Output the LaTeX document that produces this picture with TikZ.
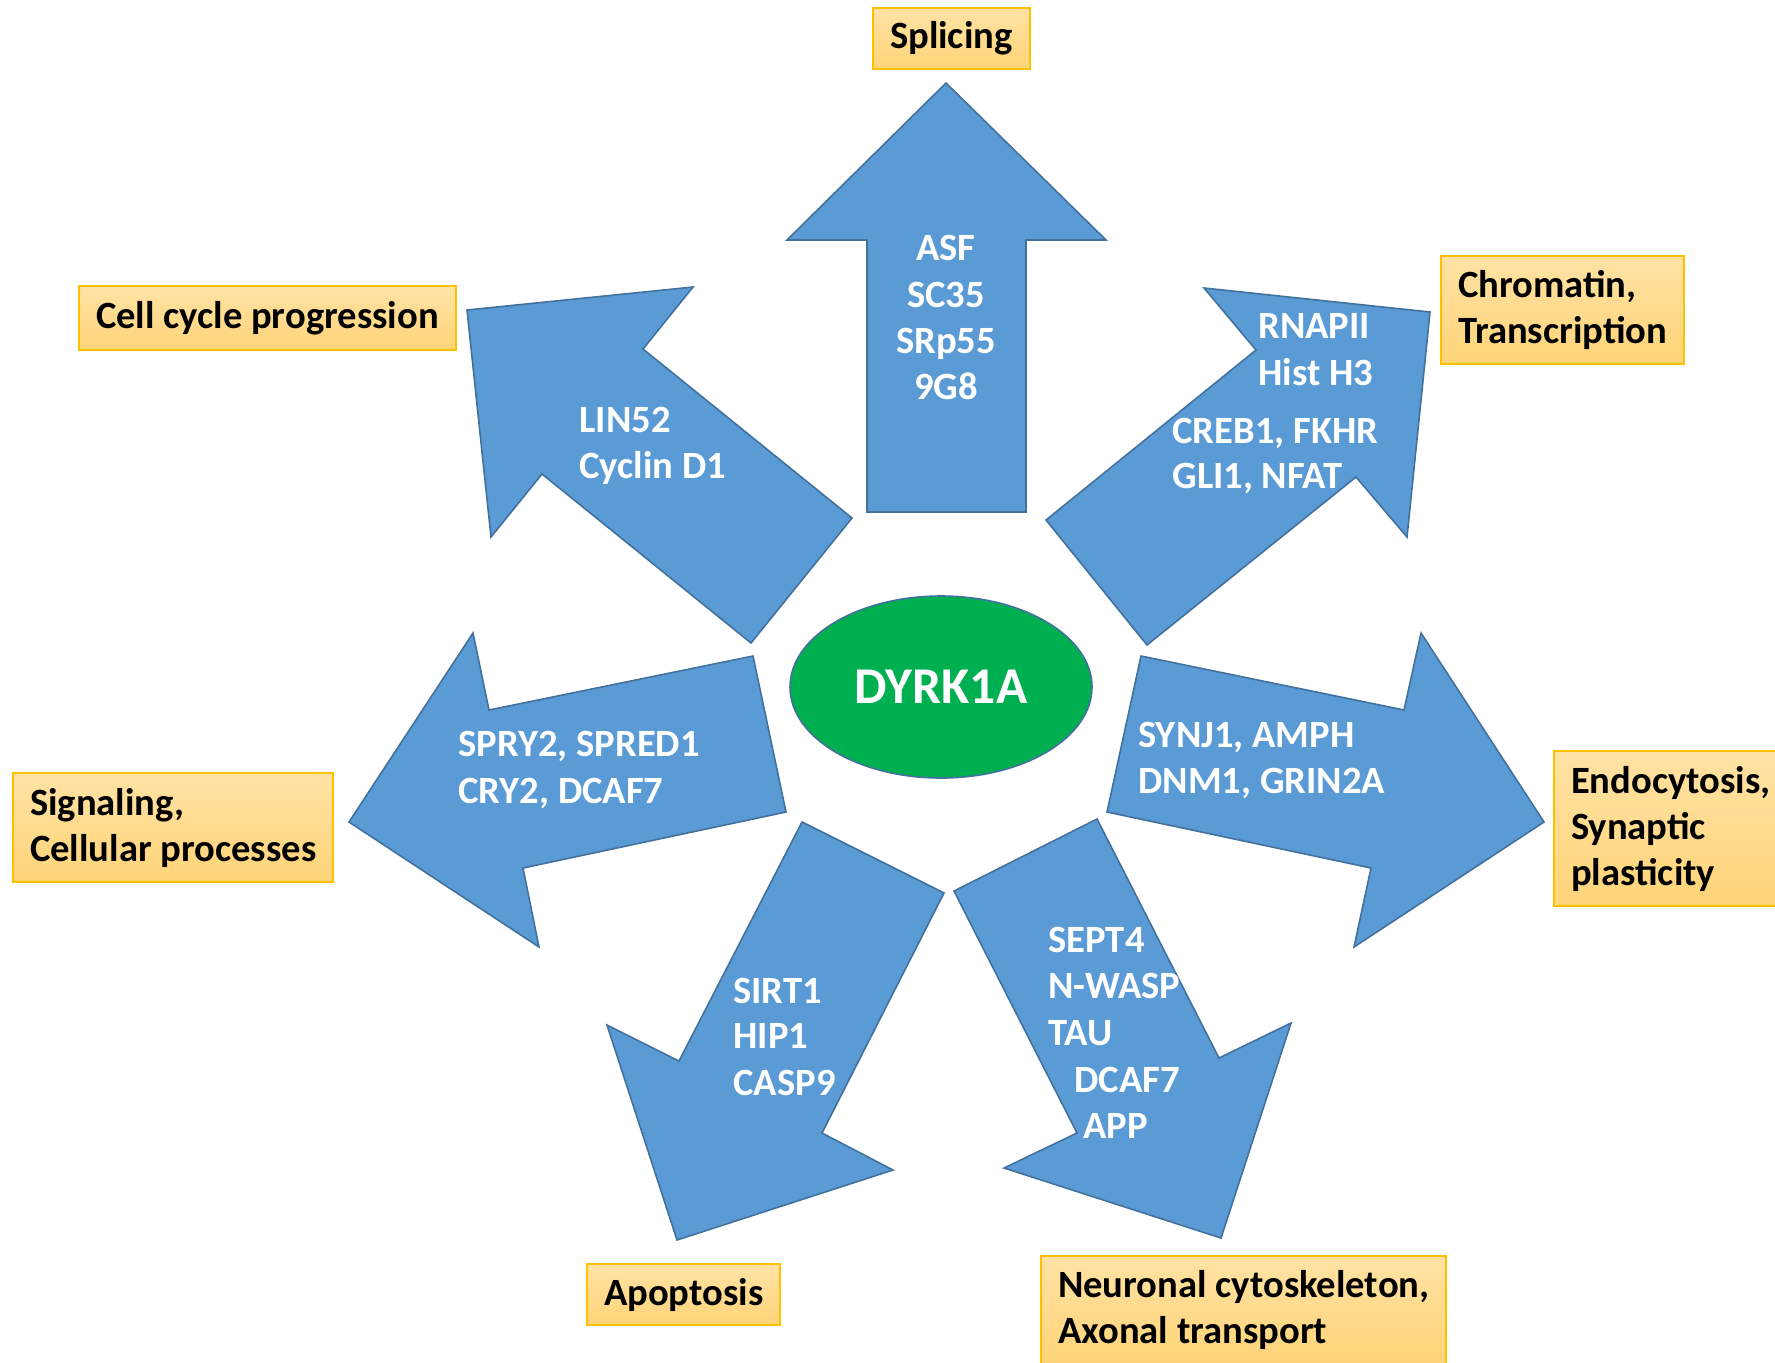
\documentclass[tikz,border=0pt]{standalone}
\usepackage{fontspec}
\setmainfont{Carlito}
\usetikzlibrary{shapes.geometric}
\definecolor{arrfill}{HTML}{5B9BD5}
\definecolor{arrline}{HTML}{41719C}
\definecolor{boxline}{HTML}{FFC000}
\definecolor{boxtop}{HTML}{FFE2A4}
\definecolor{boxbot}{HTML}{FFD478}
\definecolor{ellfill}{HTML}{00B050}
\begin{document}
\begin{tikzpicture}[x=0.5pt,y=-0.5pt,
  blockarrow/.style={fill=arrfill, draw=arrline, line width=0.8pt, line join=miter},
  lbl/.style={font=\fontsize{19.3}{23}\selectfont\bfseries, text=white, inner sep=0pt, anchor=base west},
  clbl/.style={lbl, anchor=base},
  topic/.style={draw=boxline, line width=1pt, top color=boxtop, bottom color=boxbot,
    font=\fontsize{19.3}{23}\selectfont\bfseries, align=left, inner xsep=8.5pt,
    anchor=north west, text=black},
]
\useasboundingbox (0,0) rectangle (1775,1362);
\clip (0,0) rectangle (1775,1362);

% block arrows
% up (Splicing)
\draw[blockarrow] (946,83) -- (1106,240) -- (1026,240) -- (1026,512) -- (867,512) -- (867,240) -- (787,240) -- cycle;
% upper left (Cell cycle)
\draw[blockarrow] (467,310) -- (693,287) -- (643,349) -- (852,518) -- (751,643) -- (542,474) -- (491,537) -- cycle;
% upper right (Chromatin)
\draw[blockarrow] (1430,312) -- (1204,288) -- (1256,350) -- (1046,520) -- (1147,645) -- (1356,477) -- (1407,537) -- cycle;
% left (Signaling)
\draw[blockarrow] (349,822) -- (473,633) -- (489,710) -- (753,656) -- (786,812) -- (523,868) -- (539,947) -- cycle;
% right (Endocytosis)
\draw[blockarrow] (1544,822) -- (1421,633) -- (1404,710) -- (1141,656) -- (1107,812) -- (1371,868) -- (1354,947) -- cycle;
% lower left (Apoptosis)
\draw[blockarrow] (677,1240) -- (607,1025) -- (679,1061) -- (802,822) -- (944,893) -- (822,1133) -- (893,1170) -- cycle;
% lower right (Neuronal)
\draw[blockarrow] (1221,1238) -- (1291,1023) -- (1219,1058) -- (1097,819) -- (954,891) -- (1077,1133) -- (1004,1168) -- cycle;

% center
\node[ellipse, draw=arrline, fill=ellfill, line width=0.8pt, minimum width=151pt, minimum height=91pt,
  inner sep=0pt, text=white, font=\fontsize{25.8}{30}\selectfont\bfseries] (dyrk) at (941,687) {DYRK1A};

% topic boxes
\node[topic, minimum height=30.5pt] (splicing) at (872,7) {Splicing};
\node[topic, minimum height=32pt] (cellcycle) at (78,285) {Cell cycle progression};
\node[topic, minimum height=54pt] (chromatin) at (1440,255) {Chromatin,\\Transcription};
\node[topic, minimum height=54.5pt] (signaling) at (12,772) {Signaling,\\Cellular processes};
\node[topic, minimum height=77.5pt] (endocytosis) at (1553,750) {Endocytosis,\\Synaptic\\plasticity};
\node[topic, minimum height=30.5pt] (apoptosis) at (586,1263) {Apoptosis};
\node[topic, minimum height=54pt] (neuronal) at (1040,1255) {Neuronal cytoskeleton,\\Axonal transport};

% arrow labels
\node[clbl] (u1) at (946,260) {ASF};
\node[clbl] (u2) at (946,307) {SC35};
\node[clbl] (u3) at (946,353) {SRp55};
\node[clbl] (u4) at (946,399) {9G8};

\node[lbl] (ul1) at (579,432) {LIN52};
\node[lbl] (ul2) at (579,478) {Cyclin D1};

\node[lbl] (ur1) at (1258,338) {RNAPII};
\node[lbl] (ur2) at (1258,385) {Hist H3};
\node[lbl] (ur3) at (1172,443) {CREB1, FKHR};
\node[lbl] (ur4) at (1172,488) {GLI1, NFAT};

\node[lbl] (l1) at (458,756) {SPRY2, SPRED1};
\node[lbl] (l2) at (458,803) {CRY2, DCAF7};

\node[lbl] (r1) at (1138,747) {SYNJ1, AMPH};
\node[lbl] (r2) at (1138,793) {DNM1, GRIN2A};

\node[lbl] (ll1) at (733,1003) {SIRT1};
\node[lbl] (ll2) at (733,1048) {HIP1};
\node[lbl] (ll3) at (733,1095) {CASP9};

\node[lbl] (lr1) at (1048,952) {SEPT4};
\node[lbl] (lr2) at (1048,998) {N-WASP};
\node[lbl] (lr3) at (1048,1045) {TAU};
\node[lbl] (lr4) at (1074,1092) {DCAF7};
\node[lbl] (lr5) at (1083,1138) {APP};
\end{tikzpicture}
\end{document}
